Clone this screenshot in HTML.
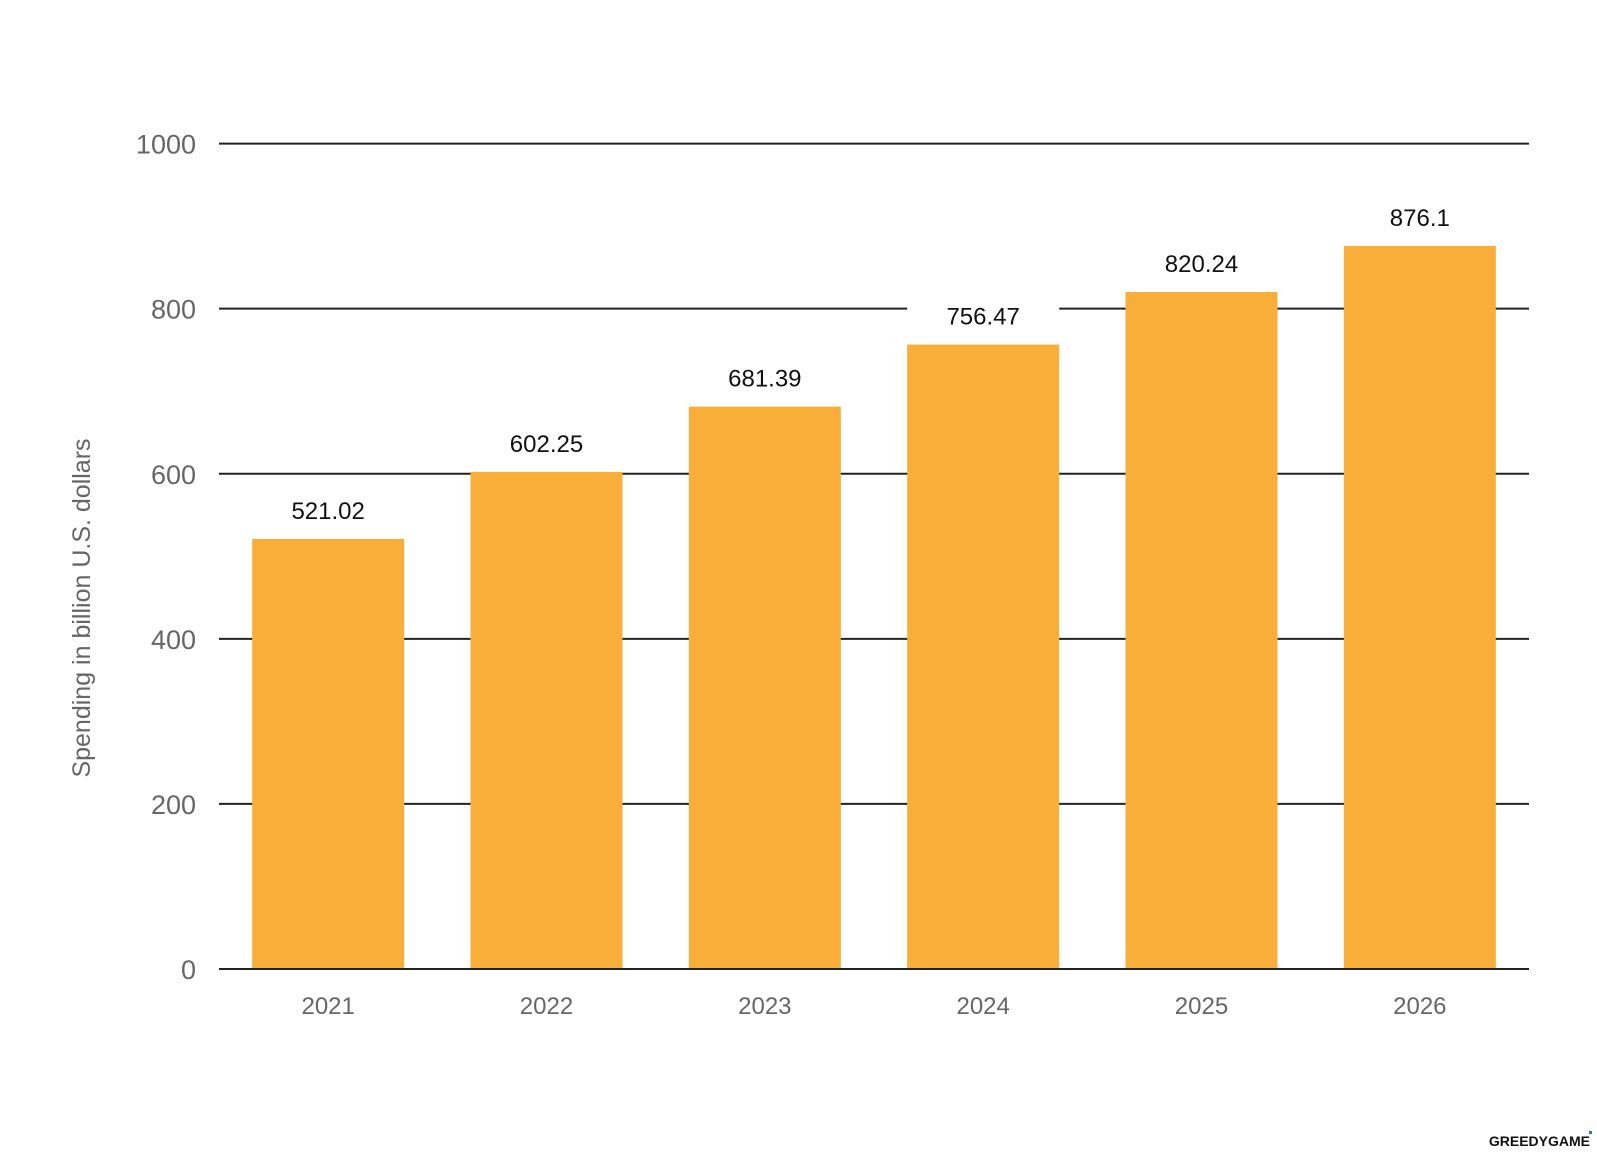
<!DOCTYPE html>
<html><head><meta charset="utf-8"><style>
body{margin:0;background:#fff}
svg text{font-family:"Liberation Sans",sans-serif}
</style></head><body>
<svg width="1597" height="1149" xmlns="http://www.w3.org/2000/svg">
<g id="grid"></g>
<g id="bars"></g>
<g id="yt"></g>
<g id="xt"></g>
<text transform="translate(90,608) rotate(-90)" text-anchor="middle" font-size="25" fill="#666">Spending in billion U.S. dollars</text>
<text x="1590" y="1146" text-anchor="end" font-size="14" font-weight="bold" fill="#111">GREEDYGAME</text>
<rect x="1589" y="1131" width="3" height="3" fill="#1a73e8"/>
</svg>
<script>
const categories=["2021","2022","2023","2024","2025","2026"];
const values=[521.02,602.25,681.39,756.47,820.24,876.1];
const valueLabels=["521.02","602.25","681.39","756.47","820.24","876.1"];
const yTicks=[0,200,400,600,800,1000];
const NS="http://www.w3.org/2000/svg";
const L=219,R=1529,T=143.6,B=969,yMax=1000;
const y=v=>B-(v/yMax)*(B-T);
const band=(R-L)/categories.length;
const x=i=>L+band*i+band/2;
const bw=152;
function mk(t,a,p){const e=document.createElementNS(NS,t);for(const k in a)e.setAttribute(k,a[k]);p.appendChild(e);return e;}
const grid=document.getElementById('grid'),bars=document.getElementById('bars'),yt=document.getElementById('yt'),xt=document.getElementById('xt');
yTicks.forEach(v=>{
  const l=mk('line',{x1:L,x2:R,y1:y(v),y2:y(v),stroke:'#222','stroke-width':2},grid);
  
  
  const t=mk('text',{x:196,y:y(v)+10,'text-anchor':'end','font-size':27,fill:'#666'},yt);
  t.textContent=v;
  
  
});
categories.forEach((c,i)=>{
  const bg=mk('rect',{x:x(i)-bw/2,y:y(values[i])-52,width:bw,height:52,fill:'#fff'},bars);
  
  
  const r=mk('rect',{x:x(i)-bw/2,y:y(values[i]),width:bw,height:B-y(values[i]),fill:'#f9ae3a'},bars);
  
  
  const t=mk('text',{x:x(i),y:y(values[i])-20,'text-anchor':'middle','font-size':24,fill:'#111'},bars);
  t.textContent=valueLabels[i];
  
  
  const xl=mk('text',{x:x(i),y:1014,'text-anchor':'middle','font-size':24,fill:'#666'},xt);
  xl.textContent=c;
  
  
});
const base=mk('line',{x1:L,x2:R,y1:B,y2:B,stroke:'#222','stroke-width':2},bars);


</script>
</body></html>
